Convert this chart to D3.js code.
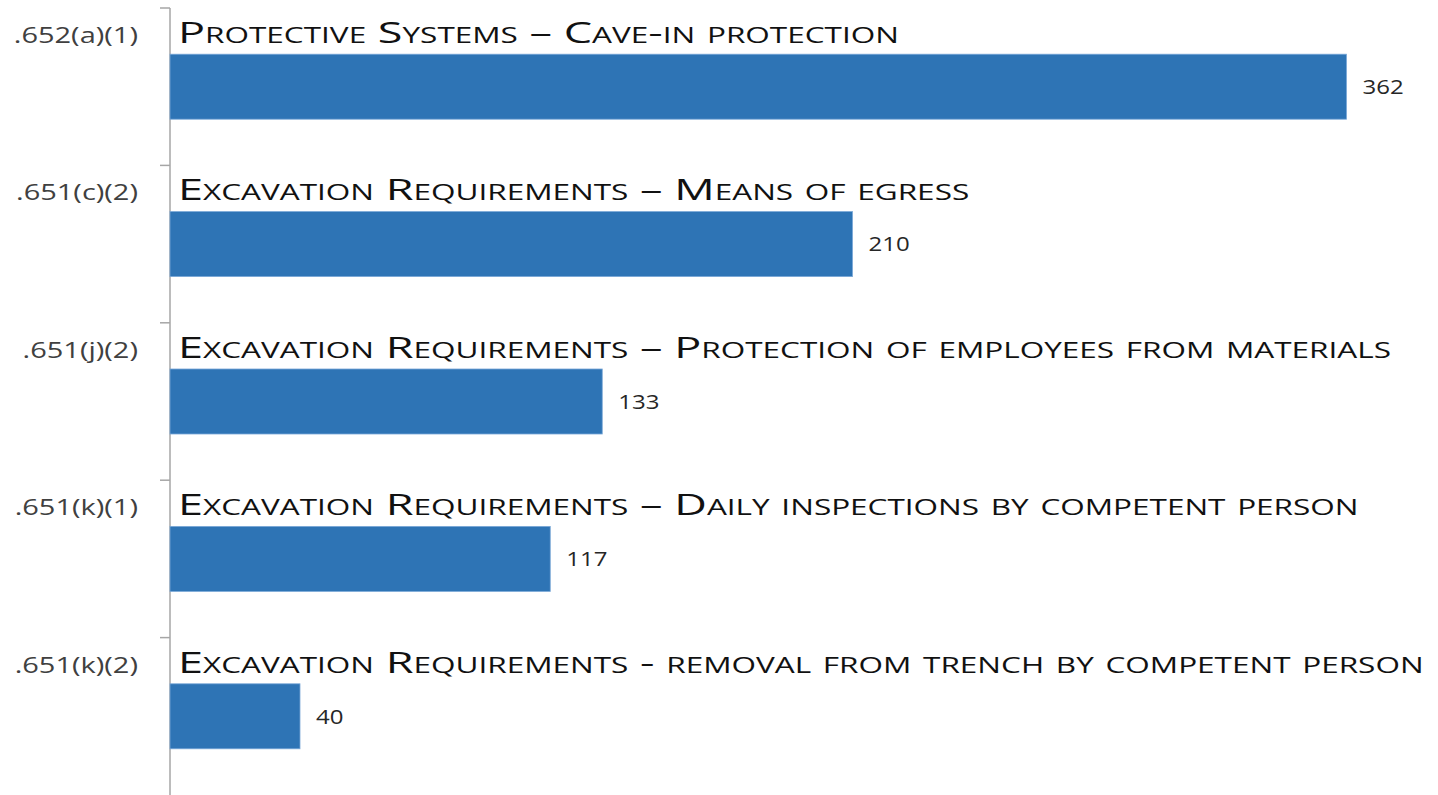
<!DOCTYPE html>
<html>
<head>
<meta charset="utf-8">
<script src="https://d3js.org/d3.v7.min.js"></script>
<style>
  body { margin: 0; background: #fff; }
  svg { display: block; }
  text { font-family: "Open Sans", "Noto Sans", sans-serif; }
</style>
</head>
<body>
<script>
// data
var codes = [".652(a)(1)", ".651(c)(2)", ".651(j)(2)", ".651(k)(1)", ".651(k)(2)"];
var titles = [
  "Protective Systems \u2013 Cave-in protection",
  "Excavation Requirements \u2013 Means of egress",
  "Excavation Requirements \u2013 Protection of employees from materials",
  "Excavation Requirements \u2013 Daily inspections by competent person",
  "Excavation Requirements - removal from trench by competent person"
];
var counts = [362, 210, 133, 117, 40];

var width = 1438, height = 795;

var svg = d3.select("body").append("svg")
    .attr("width", width)
    .attr("height", height);

var x = d3.scaleLinear().domain([0, 400]).range([170, 1470]);
var y = d3.scaleBand().domain(codes).range([8, 795]).padding(0);
var barH = y.bandwidth() * 0.413;

// axis line + ticks at band edges
svg.append("line")
    .attr("x1", x(0)).attr("x2", x(0))
    .attr("y1", y.range()[0]).attr("y2", y.range()[1])
    .style("stroke", "#a6a6a6")
    .style("stroke-width", "1.5px");

var edges = codes.map(function(c) { return y(c); });
svg.selectAll(".tick")
    .data(edges)
    .enter().append("line")
    .attr("class", "tick")
    .attr("x1", x(0) - 10).attr("x2", x(0))
    .attr("y1", function(d) { return d; })
    .attr("y2", function(d) { return d; })
    .style("stroke", "#a6a6a6")
    .style("stroke-width", "1.5px");

//Draw bars
svg.selectAll(".bar")
    .data(codes)
    .enter().append("rect")
    .attr("class", "bar")
    .attr("x", x(0))
    .attr("y", function(d) { return y(d) + (y.bandwidth() - barH) / 2; })
    .attr("width", function(d, i) { return x(counts[i]) - x(0); })
    .attr("height", barH)
    .style("fill", "#2e74b5")
    .style("stroke", "#7aa8d8")
    .style("stroke-width", "0.8px");

// codes on the left
svg.selectAll(".code")
    .data(codes)
    .enter().append("text")
    .attr("class", "code")
    .attr("x", 138)
    .attr("y", function(d) { return y(d) + 35; })
    .attr("text-anchor", "end")
    .style("font-size", "21px")
    .style("fill", "#404040")
    .text(function(d) { return d; });

// titles in small caps
svg.selectAll(".title")
    .data(codes)
    .enter().append("text")
    .attr("class", "title")
    .attr("x", x(0) + 8)
    .attr("y", function(d) { return y(d) + 35; })
    .style("font-size", "30px")
    .style("font-variant", "small-caps")
    .style("fill", "#111")
    .text(function(d, i) { return titles[i]; });

// value labels
svg.selectAll(".val")
    .data(codes)
    .enter().append("text")
    .attr("class", "val")
    .attr("x", function(d, i) { return x(counts[i]) + 16; })
    .attr("y", function(d) { return y(d) + y.bandwidth() / 2; })
    .attr("dy", "0.36em")
    .style("font-size", "20px")
    .style("fill", "#262626")
    .text(function(d, i) { return counts[i]; });

// widen texts to match the sideways-stretched original
function widen(sel, k) {
    sel.each(function() {
        var w = this.getComputedTextLength();
        d3.select(this)
            .attr("textLength", w * k)
            .attr("lengthAdjust", "spacingAndGlyphs");
    });
}
widen(svg.selectAll(".code"), 1.38);
widen(svg.selectAll(".title"), 1.5);
widen(svg.selectAll(".val"), 1.2);
</script>
</body>
</html>
